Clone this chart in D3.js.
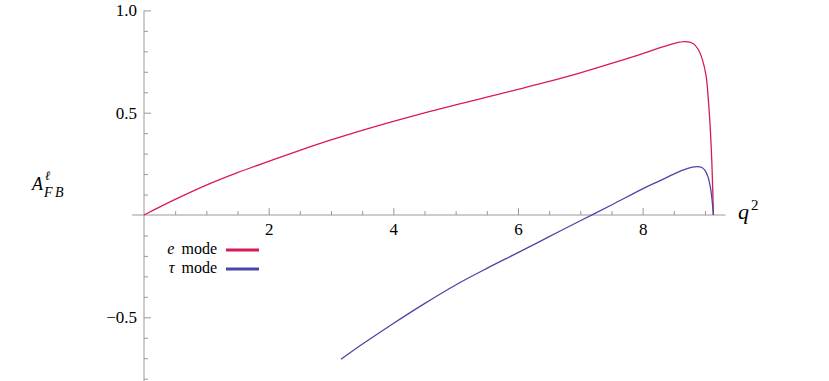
<!DOCTYPE html>
<html>
<head>
<meta charset="utf-8">
<script src="https://cdn.jsdelivr.net/npm/d3@7"></script>
<style>
  body { margin: 0; background: #fff; }
  svg { display: block; }
</style>
</head>
<body>
<script>
// forward-backward asymmetry vs q^2
var qE   = [0, 0.5, 1, 1.5, 2, 2.5, 3, 3.5, 4, 4.5, 5, 5.5, 6, 6.5, 7, 7.5, 8, 8.28, 8.5, 8.68, 8.81, 8.89, 8.96, 9.02, 9.05, 9.08, 9.11, 9.125, 9.135];
var afbE = [0, 0.076, 0.146, 0.207, 0.262, 0.316, 0.367, 0.414, 0.458, 0.499, 0.538, 0.576, 0.614, 0.653, 0.695, 0.741, 0.789, 0.818, 0.838, 0.847, 0.838, 0.810, 0.758, 0.676, 0.580, 0.450, 0.260, 0.12, 0];

var qTau   = [3.16, 3.5, 4, 4.5, 5, 5.5, 6, 6.5, 7, 7.5, 8, 8.28, 8.5, 8.7, 8.87, 8.95, 9.0, 9.05, 9.09, 9.115, 9.135];
var afbTau = [-0.705, -0.632, -0.530, -0.433, -0.342, -0.261, -0.184, -0.106, -0.028, 0.049, 0.128, 0.168, 0.200, 0.225, 0.236, 0.232, 0.218, 0.185, 0.130, 0.070, 0];

var xMajor = [2, 4, 6, 8];
var xMinor = [0.5, 1, 1.5, 2.5, 3, 3.5, 4.5, 5, 5.5, 6.5, 7, 7.5, 8.5, 9];
var yMajor = [-0.5, 0.5, 1.0];
var yMinor = [-0.8, -0.7, -0.6, -0.4, -0.3, -0.2, -0.1, 0.1, 0.2, 0.3, 0.4, 0.6, 0.7, 0.8, 0.9];

var series = [
  {name: "e", q: qE, v: afbE, color: "#d81b52"},
  {name: "τ", q: qTau, v: afbTau, color: "#4a46a8"}
];

var width = 829, height = 381;
var axisColor = "#999";
var serif = "'Liberation Serif', 'Times New Roman', serif";

var svg = d3.select("body").append("svg")
    .attr("width", width)
    .attr("height", height)
    .style("font-family", serif);

var x = d3.scaleLinear().domain([0, 9.35]).range([144, 144 + 9.35 * 62.33]);
var y = d3.scaleLinear().domain([-0.8, 1.0]).range([215 + 0.8 * 204.6, 215 - 204.6]);

// axis lines
svg.append("line")
    .attr("x1", x(-0.19)).attr("x2", x(9.33))
    .attr("y1", y(0)).attr("y2", y(0))
    .attr("stroke", axisColor).attr("stroke-width", 1);
svg.append("line")
    .attr("x1", x(0)).attr("x2", x(0))
    .attr("y1", y(1.0)).attr("y2", height)
    .attr("stroke", axisColor).attr("stroke-width", 1);

// ticks point into the plot
function styleAxis(g) {
  g.attr("font-family", null).attr("font-size", null);
  g.select(".domain").remove();
  g.selectAll(".tick line").attr("stroke", axisColor);
  g.selectAll(".tick text")
      .style("font-family", serif)
      .style("font-size", "17px")
      .attr("fill", "#000");
}

svg.append("g")
    .attr("transform", "translate(0," + y(0) + ")")
    .call(d3.axisBottom(x).tickValues(xMinor).tickSize(-4).tickFormat(""))
    .call(styleAxis);
svg.append("g")
    .attr("transform", "translate(0," + y(0) + ")")
    .call(d3.axisBottom(x).tickValues(xMajor).tickSize(-7).tickPadding(8).tickFormat(d3.format("d")))
    .call(styleAxis);

svg.append("g")
    .attr("transform", "translate(" + x(0) + ",0)")
    .call(d3.axisLeft(y).tickValues(yMinor).tickSize(-4).tickFormat(""))
    .call(styleAxis);
svg.append("g")
    .attr("transform", "translate(" + x(0) + ",0)")
    .call(d3.axisLeft(y).tickValues(yMajor).tickSize(-7).tickPadding(7)
          .tickFormat(function(d) { return d < 0 ? "\u2212" + d3.format(".1f")(-d) : d3.format(".1f")(d); }))
    .call(styleAxis);

// curves
var line = d3.line()
    .x(function(d) { return x(d[0]); })
    .y(function(d) { return y(d[1]); })
    .curve(d3.curveCatmullRom.alpha(0.5));

series.forEach(function(s) {
  svg.append("path")
      .attr("d", line(d3.zip(s.q, s.v)))
      .attr("fill", "none")
      .attr("stroke", s.color)
      .attr("stroke-width", 1.3);
});

// axis labels: A^l_FB and q^2
svg.append("text").attr("x", 32).attr("y", 190)
    .style("font-family", serif).style("font-size", "18px").style("font-style", "italic")
    .text("A");
svg.append("text").attr("x", 45).attr("y", 180)
    .style("font-family", serif).style("font-size", "13px").style("font-style", "italic")
    .text("ℓ");
svg.append("text").attr("x", 44).attr("y", 197)
    .style("font-family", serif).style("font-size", "14px").style("font-style", "italic")
    .style("letter-spacing", "2.5px")
    .text("FB");

var xl = svg.append("text").attr("x", 738).attr("y", 219)
    .style("font-family", serif).style("font-size", "22px");
xl.append("tspan").style("font-style", "italic").text("q");
xl.append("tspan").attr("dx", 2).attr("dy", -9).style("font-size", "15px").text("2");

// legend
var legend = svg.append("g");
series.forEach(function(s, i) {
  var ly = 250 + i * 19;
  var t = legend.append("text")
      .attr("x", 217).attr("y", ly + 4)
      .attr("text-anchor", "end")
      .style("font-family", serif)
      .style("font-size", "16px");
  t.append("tspan").style("font-style", "italic").text(s.name);
  t.append("tspan").attr("dx", 3).text(" mode");
  legend.append("line")
      .attr("x1", 226).attr("x2", 259)
      .attr("y1", ly).attr("y2", ly)
      .attr("stroke", s.color)
      .attr("stroke-width", 3);
});
</script>
</body>
</html>
